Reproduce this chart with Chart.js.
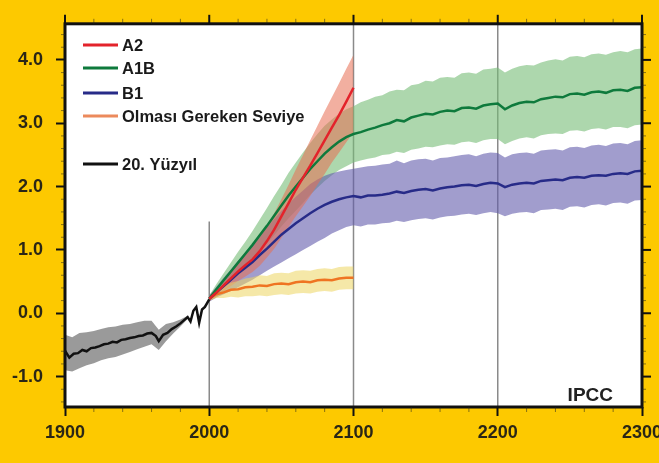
<!DOCTYPE html>
<html>
<head>
<meta charset="utf-8">
<script src="https://cdn.jsdelivr.net/npm/chart.js@4.4.0/dist/chart.umd.min.js"></script>
<style>
  html, body { margin: 0; padding: 0; background: #fdc900; }
  #wrap { width: 659px; height: 463px; overflow: hidden; }
  canvas { display: block; }
</style>
</head>
<body>
<div id="wrap"><canvas id="chart" width="670" height="463"></canvas></div>
<script>
// axes
const xTicks = [1900, 2000, 2100, 2200, 2300];
const xTickLabels = ["1900", "2000", "2100", "2200", "2300"];
const yTicks = [-1, 0, 1, 2, 3, 4];
const yTickLabels = ["-1.0", "0.0", "1.0", "2.0", "3.0", "4.0"];

const legendLabels = ["A2", "A1B", "B1", "Olması Gereken Seviye", "20. Yüzyıl"];

// 20th century (observed + model band)
const histYears = [1900, 1903, 1906, 1909, 1912, 1915, 1918, 1921, 1924, 1927, 1930, 1933, 1936, 1939, 1942, 1945, 1948, 1951, 1954, 1957, 1960, 1963, 1965, 1968, 1971, 1974, 1977, 1980, 1983, 1985, 1987, 1989, 1991, 1993, 1995, 1997, 2000];
const histValues = [-0.59, -0.70, -0.64, -0.63, -0.58, -0.60, -0.55, -0.54, -0.52, -0.49, -0.48, -0.45, -0.46, -0.42, -0.41, -0.39, -0.38, -0.36, -0.35, -0.32, -0.31, -0.36, -0.44, -0.34, -0.31, -0.25, -0.21, -0.16, -0.10, -0.06, -0.13, 0.04, 0.10, -0.15, 0.06, 0.10, 0.22];
const histBandYears = [1900, 1905, 1910, 1915, 1920, 1925, 1930, 1935, 1940, 1945, 1950, 1955, 1960, 1965, 1970, 1975, 1980, 1985];
const histHigh = [-0.34, -0.38, -0.31, -0.30, -0.28, -0.25, -0.22, -0.21, -0.18, -0.17, -0.14, -0.12, -0.12, -0.26, -0.17, -0.14, -0.10, -0.04];
const histLow = [-0.90, -0.92, -0.87, -0.82, -0.79, -0.74, -0.71, -0.69, -0.65, -0.61, -0.57, -0.53, -0.49, -0.58, -0.44, -0.32, -0.21, -0.09];

// 21st century scenarios
const yearsTo2100 = [2000, 2005, 2010, 2015, 2020, 2025, 2030, 2035, 2040, 2045, 2050, 2055, 2060, 2065, 2070, 2075, 2080, 2085, 2090, 2095, 2100];
const yearsTo2300 = [2000, 2005, 2010, 2015, 2020, 2025, 2030, 2035, 2040, 2045, 2050, 2055, 2060, 2065, 2070, 2075, 2080, 2085, 2090, 2095, 2100,
  2105, 2110, 2115, 2120, 2125, 2130, 2135, 2140, 2145, 2150, 2155, 2160, 2165, 2170, 2175, 2180, 2185, 2190, 2195, 2200,
  2205, 2210, 2215, 2220, 2225, 2230, 2235, 2240, 2245, 2250, 2255, 2260, 2265, 2270, 2275, 2280, 2285, 2290, 2295, 2300];

const a2Values = [0.23, 0.33, 0.44, 0.55, 0.66, 0.76, 0.85, 0.98, 1.14, 1.32, 1.53, 1.74, 1.95, 2.14, 2.33, 2.53, 2.73, 2.93, 3.13, 3.34, 3.56];
const a2High = [0.27, 0.40, 0.53, 0.66, 0.79, 0.92, 1.05, 1.20, 1.38, 1.58, 1.80, 2.03, 2.27, 2.50, 2.73, 2.96, 3.19, 3.41, 3.63, 3.86, 4.08];
const a2Low = [0.19, 0.26, 0.35, 0.43, 0.51, 0.58, 0.65, 0.75, 0.88, 1.02, 1.19, 1.36, 1.53, 1.69, 1.85, 2.03, 2.20, 2.38, 2.54, 2.70, 2.86];

const commitValues = [0.23, 0.30, 0.33, 0.37, 0.38, 0.41, 0.42, 0.44, 0.43, 0.46, 0.47, 0.46, 0.49, 0.50, 0.49, 0.52, 0.53, 0.52, 0.55, 0.56, 0.56];
const commitHigh = [0.26, 0.36, 0.42, 0.48, 0.51, 0.55, 0.57, 0.60, 0.59, 0.63, 0.64, 0.63, 0.67, 0.68, 0.67, 0.70, 0.71, 0.70, 0.73, 0.74, 0.74];
const commitLow = [0.20, 0.24, 0.24, 0.26, 0.25, 0.27, 0.27, 0.28, 0.27, 0.29, 0.30, 0.29, 0.31, 0.32, 0.31, 0.34, 0.35, 0.34, 0.37, 0.38, 0.38];

const a1bValues = [0.23, 0.38, 0.52, 0.66, 0.80, 0.94, 1.08, 1.23, 1.38, 1.54, 1.70, 1.86, 2.00, 2.14, 2.28, 2.40, 2.52, 2.62, 2.71, 2.78, 2.83,
  2.86, 2.90, 2.93, 2.97, 3.00, 3.05, 3.03, 3.09, 3.12, 3.15, 3.14, 3.18, 3.20, 3.19, 3.24, 3.25, 3.23, 3.28, 3.30, 3.31,
  3.22, 3.28, 3.32, 3.34, 3.33, 3.38, 3.40, 3.42, 3.41, 3.46, 3.47, 3.45, 3.49, 3.50, 3.48, 3.52, 3.53, 3.51, 3.56, 3.57];
const a1bHigh = [0.28, 0.46, 0.63, 0.80, 0.97, 1.13, 1.30, 1.48, 1.66, 1.85, 2.03, 2.22, 2.38, 2.54, 2.69, 2.83, 2.96, 3.06, 3.15, 3.22, 3.27,
  3.33, 3.37, 3.42, 3.44, 3.50, 3.53, 3.52, 3.60, 3.62, 3.67, 3.66, 3.72, 3.73, 3.72, 3.79, 3.80, 3.78, 3.85, 3.86, 3.88,
  3.80, 3.86, 3.90, 3.92, 3.91, 3.96, 3.99, 4.01, 3.99, 4.05, 4.06, 4.04, 4.09, 4.10, 4.08, 4.12, 4.14, 4.12, 4.17, 4.18];
const a1bLow = [0.18, 0.30, 0.41, 0.52, 0.63, 0.75, 0.86, 0.98, 1.10, 1.23, 1.37, 1.50, 1.62, 1.74, 1.87, 1.98, 2.09, 2.18, 2.26, 2.32, 2.38,
  2.41, 2.44, 2.46, 2.50, 2.51, 2.55, 2.53, 2.58, 2.60, 2.63, 2.62, 2.65, 2.67, 2.66, 2.70, 2.71, 2.69, 2.73, 2.75, 2.75,
  2.67, 2.72, 2.76, 2.78, 2.76, 2.81, 2.83, 2.84, 2.83, 2.88, 2.89, 2.87, 2.91, 2.92, 2.90, 2.94, 2.94, 2.92, 2.97, 2.98];

const b1Values = [0.23, 0.33, 0.43, 0.53, 0.63, 0.72, 0.81, 0.92, 1.02, 1.13, 1.24, 1.33, 1.42, 1.50, 1.58, 1.65, 1.71, 1.76, 1.80, 1.83, 1.85,
  1.83, 1.86, 1.86, 1.87, 1.89, 1.92, 1.90, 1.93, 1.95, 1.96, 1.94, 1.97, 1.99, 2.00, 2.02, 2.03, 2.01, 2.04, 2.06, 2.05,
  1.99, 2.03, 2.05, 2.06, 2.05, 2.09, 2.10, 2.11, 2.10, 2.14, 2.15, 2.14, 2.17, 2.18, 2.17, 2.20, 2.21, 2.20, 2.24, 2.25];
const b1High = [0.28, 0.42, 0.56, 0.69, 0.83, 0.96, 1.09, 1.22, 1.36, 1.49, 1.62, 1.73, 1.84, 1.94, 2.04, 2.11, 2.17, 2.21, 2.24, 2.26, 2.28,
  2.30, 2.32, 2.33, 2.35, 2.36, 2.41, 2.37, 2.41, 2.43, 2.44, 2.41, 2.45, 2.46, 2.48, 2.50, 2.51, 2.48, 2.52, 2.54, 2.53,
  2.46, 2.51, 2.53, 2.54, 2.52, 2.57, 2.58, 2.59, 2.57, 2.62, 2.63, 2.61, 2.65, 2.66, 2.64, 2.68, 2.69, 2.67, 2.72, 2.73];
const b1Low = [0.18, 0.25, 0.30, 0.35, 0.41, 0.47, 0.53, 0.60, 0.67, 0.74, 0.80, 0.87, 0.93, 1.00, 1.06, 1.13, 1.19, 1.26, 1.31, 1.36, 1.39,
  1.37, 1.40, 1.40, 1.42, 1.43, 1.46, 1.44, 1.47, 1.49, 1.50, 1.48, 1.51, 1.53, 1.54, 1.56, 1.57, 1.55, 1.58, 1.60, 1.58,
  1.53, 1.57, 1.59, 1.60, 1.58, 1.63, 1.64, 1.65, 1.63, 1.68, 1.69, 1.67, 1.71, 1.72, 1.70, 1.74, 1.75, 1.73, 1.78, 1.79];

const pts = (xs, ys) => xs.map((x, i) => ({ x: x, y: ys[i] }));

// a band = invisible upper edge + lower edge filled up to it
function band(name, xs, hi, lo, color, order) {
  const edge = { borderColor: "rgba(0,0,0,0)", borderWidth: 0, pointRadius: 0, order: order };
  return [
    Object.assign({ label: name + " üst", data: pts(xs, hi), fill: false }, edge),
    Object.assign({ label: name + " alt", data: pts(xs, lo), fill: "-1", backgroundColor: color }, edge),
  ];
}

function line(name, xs, ys, color, order) {
  return { label: name, data: pts(xs, ys), borderColor: color, borderWidth: 2.5, pointRadius: 0, fill: false, order: order };
}

const lineColors = ["#e3232b", "#0e7a3c", "#272b88", "#ec8a5c", "#111111"];

const datasets = [
  ...band("A1B", yearsTo2300, a1bHigh, a1bLow, "rgba(118, 188, 118, 0.6)", 20),
  ...band("B1", yearsTo2300, b1High, b1Low, "rgba(98, 92, 172, 0.6)", 19),
  ...band("A2", yearsTo2100, a2High, a2Low, "rgba(232, 110, 82, 0.55)", 18),
  ...band("Olması Gereken Seviye", yearsTo2100, commitHigh, commitLow, "rgba(236, 214, 96, 0.55)", 17),
  ...band("20. Yüzyıl", histBandYears, histHigh, histLow, "rgba(100, 100, 100, 0.65)", 16),
  line("Olması Gereken Seviye", yearsTo2100, commitValues, "#ef7422", 5),
  line("B1", yearsTo2300, b1Values, "#272b88", 4),
  line("A1B", yearsTo2300, a1bValues, "#0e7a3c", 3),
  line("A2", yearsTo2100, a2Values, "#e3232b", 2),
  line("20. Yüzyıl", histYears, histValues, "#111111", 1),
];

const tickFont = { family: "Liberation Sans", size: 18, weight: "bold" };
const inkColor = "#2a2616";

function seg(ctx, x1, y1, x2, y2) {
  ctx.beginPath();
  ctx.moveTo(x1, y1);
  ctx.lineTo(x2, y2);
  ctx.stroke();
}

const decor = {
  id: "decor",
  beforeDraw(chart) {
    const { ctx, chartArea: a } = chart;
    ctx.save();
    ctx.fillStyle = "#ffffff";
    ctx.fillRect(a.left, a.top, a.right - a.left, a.bottom - a.top);
    ctx.restore();
  },
  beforeDatasetsDraw(chart) {
    const { ctx, chartArea: a, scales } = chart;
    ctx.save();
    ctx.strokeStyle = "#8a8a8a";
    ctx.lineWidth = 1.5;
    [2100, 2200].forEach((yr) => {
      const px = scales.x.getPixelForValue(yr);
      seg(ctx, px, a.top, px, a.bottom);
    });
    const p0 = scales.x.getPixelForValue(2000);
    seg(ctx, p0, scales.y.getPixelForValue(1.45), p0, a.bottom);
    ctx.restore();
  },
  afterDraw(chart) {
    const { ctx, chartArea: a, scales } = chart;
    const x = scales.x, y = scales.y;
    ctx.save();
    ctx.strokeStyle = "#111";
    // frame
    ctx.lineWidth = 3;
    ctx.strokeRect(a.left, a.top, a.right - a.left, a.bottom - a.top);
    // top and right major ticks
    ctx.lineWidth = 2;
    xTicks.forEach((v) => {
      const px = x.getPixelForValue(v);
      seg(ctx, px, a.top, px, a.top - 9);
    });
    yTicks.forEach((v) => {
      const py = y.getPixelForValue(v);
      seg(ctx, a.right, py, a.right + 9, py);
    });
    // minor ticks
    ctx.lineWidth = 1;
    ctx.strokeStyle = "rgba(40,40,30,0.55)";
    for (let v = 1920; v < 2300; v += 20) {
      if (v % 100 === 0) continue;
      const px = x.getPixelForValue(v);
      seg(ctx, px, a.bottom, px, a.bottom + 5);
      seg(ctx, px, a.top, px, a.top - 5);
    }
    for (let k = -7; k <= 22; k++) {
      if (k % 5 === 0) continue;
      const py = y.getPixelForValue(k / 5);
      seg(ctx, a.left, py, a.left - 4, py);
      seg(ctx, a.right, py, a.right + 4, py);
    }
    ctx.restore();

    // legend
    const rows = [45, 68, 93, 116, 164];
    ctx.save();
    ctx.font = 'bold 16.5px "Liberation Sans"';
    ctx.textBaseline = "middle";
    legendLabels.forEach((lab, i) => {
      ctx.strokeStyle = lineColors[i];
      ctx.lineWidth = 3;
      seg(ctx, 83, rows[i], 118, rows[i]);
      ctx.fillStyle = "#1a1a1a";
      ctx.fillText(lab, 122, rows[i] + 1);
    });
    // source mark
    ctx.font = 'bold 19px "Liberation Sans"';
    ctx.textAlign = "right";
    ctx.textBaseline = "alphabetic";
    ctx.fillStyle = "#222";
    ctx.fillText("IPCC", 613, 401);
    ctx.restore();
  },
};

new Chart(document.getElementById("chart"), {
  type: "line",
  data: { datasets: datasets },
  plugins: [decor],
  options: {
    responsive: false,
    animation: false,
    devicePixelRatio: 1,
    layout: { padding: { left: 0, top: 20, right: 28, bottom: 0 } },
    plugins: { legend: { display: false }, tooltip: { enabled: false } },
    elements: { line: { tension: 0 }, point: { radius: 0 } },
    scales: {
      x: {
        type: "linear",
        min: 1900,
        max: 2300,
        afterBuildTicks: (s) => { s.ticks = xTicks.map((v) => ({ value: v })); },
        afterFit: (s) => { s.height = 56; },
        ticks: { autoSkip: false, maxRotation: 0, padding: 6, color: inkColor, font: tickFont, callback: (v, i) => xTickLabels[i] },
        grid: { drawOnChartArea: false, tickLength: 9, tickWidth: 2, tickColor: "#111" },
        border: { display: false },
      },
      y: {
        type: "linear",
        min: -1.48,
        max: 4.57,
        afterBuildTicks: (s) => { s.ticks = yTicks.map((v) => ({ value: v })); },
        afterFit: (s) => { s.width = 65; },
        ticks: { autoSkip: false, padding: 13, color: inkColor, font: tickFont, callback: (v, i) => yTickLabels[i] },
        grid: { drawOnChartArea: false, tickLength: 9, tickWidth: 2, tickColor: "#111" },
        border: { display: false },
      },
    },
  },
});
</script>
</body>
</html>
